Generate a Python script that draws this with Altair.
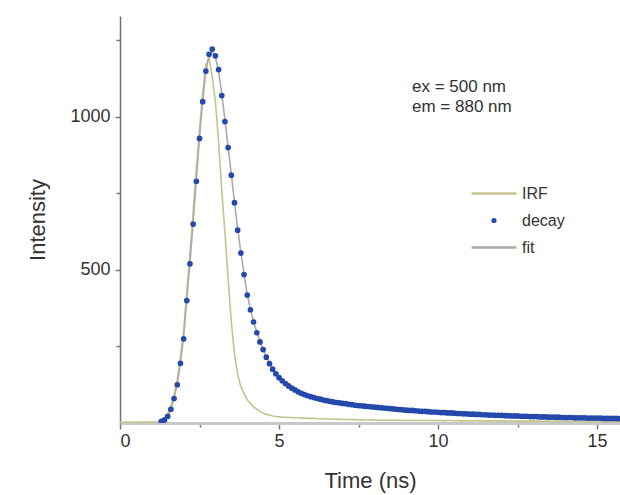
import altair as alt
import pandas as pd

# ---- data (0.1 ns sampling) ----
step = 0.1
irf_start = 0.0
irf = [
    3, 2, 3, 3, 2, 3, 3, 2, 3, 3,
    3, 4, 5, 8, 15, 30, 55, 92, 140, 215,
    300, 430, 555, 690, 830, 960, 1080, 1170, 1195, 1130,
    1050, 920, 760, 620, 470, 330, 225, 160, 118, 95,
    76, 64, 53, 45, 38, 33, 29, 26, 23, 21,
    20, 19, 19, 18, 18, 17, 18, 16, 16, 15,
    15, 16, 14, 14, 13, 14, 13, 12, 13, 12,
    12, 11, 12, 11, 11, 10, 11, 10, 10, 11,
    10, 9, 10, 9, 10, 9, 9, 10, 9, 8,
    9, 8, 9, 8, 9, 8, 8, 9, 8, 8,
    8, 8, 7, 8, 8, 7, 8, 7, 7, 8,
    7, 7, 8, 7, 7, 7, 6, 7, 7, 6,
    7, 6, 7, 6, 6, 7, 6, 6, 6, 7,
    6, 6, 6, 5, 6, 6, 5, 6, 6, 5,
    6, 5, 5, 6, 5, 5, 5, 6, 5, 5,
    5, 5, 5, 4, 5, 5, 5, 4,
]

decay_start = 1.3
decay = [
    5, 10, 22, 45, 80, 125, 195,
    275, 400, 520, 650, 790, 930, 1050, 1150, 1205, 1222,
    1200, 1155, 1070, 985, 900, 810, 720, 630, 555, 485,
    418, 370, 330, 295, 265, 240, 215, 194, 176, 161,
    148, 138, 129, 121, 114, 108, 102, 97, 93, 89,
    86, 83, 80, 78, 75, 73, 71, 69, 67, 66,
    64, 63, 61, 60, 58, 57, 56, 55, 54, 53,
    52, 51, 50, 49, 48, 47, 46, 45, 44, 43,
    42, 41, 41, 40, 39, 38, 38, 37, 36, 36,
    35, 34, 34, 33, 33, 32, 31, 31, 30, 30,
    29, 29, 28, 28, 27, 27, 26, 26, 25, 25,
    25, 24, 24, 23, 23, 23, 22, 22, 22, 21,
    21, 21, 20, 20, 20, 19, 19, 19, 19, 18,
    18, 18, 18, 17, 17, 17, 17, 16, 16, 16,
    16, 16, 15, 15, 15, 15, 15, 14,
]

fit_start = 1.2
fit = [
    3, 6, 11, 23, 46, 82, 127, 198,
    280, 405, 525, 655, 795, 935, 1055, 1150, 1200, 1215,
    1195, 1150, 1075, 990, 900, 812, 722, 635, 557, 487,
    420, 372, 332, 297, 267, 241, 217, 196, 178, 162,
    149, 139, 130, 122, 115, 108, 103, 98, 93, 89,
    86, 83, 80, 77, 75, 73, 71, 69, 67, 65,
    64, 62, 61, 59, 58, 57, 56, 55, 54, 53,
    52, 51, 50, 49, 48, 47, 46, 45, 44, 43,
    42, 41, 41, 40, 39, 38, 38, 37, 36, 36,
    35, 34, 34, 33, 33, 32, 31, 31, 30, 30,
    29, 29, 28, 28, 27, 27, 26, 26, 25, 25,
    25, 24, 24, 23, 23, 23, 22, 22, 22, 21,
    21, 21, 20, 20, 20, 19, 19, 19, 19, 18,
    18, 18, 18, 17, 17, 17, 17, 16, 16, 16,
    16, 16, 15, 15, 15, 15, 15, 14,
]

series_names = ["IRF", "decay", "fit"]
series_colors = ["#c4c48f", "#2548ad", "#ababab"]
annotation = "ex = 500 nm\nem = 880 nm"

x_ticks = [0, 2.5, 5, 7.5, 10, 12.5, 15]
y_ticks = [250, 500, 750, 1000, 1250]


def frame(name, start, values):
    return pd.DataFrame({
        "series": name,
        "t": [round(start + i * step, 2) for i in range(len(values))],
        "v": values,
    })


df = pd.concat([frame("IRF", irf_start, irf),
                frame("decay", decay_start, decay),
                frame("fit", fit_start, fit)], ignore_index=True)

legend = alt.Legend(title=None, orient="none", legendX=350, legendY=164,
                    labelFontSize=16, labelColor="#333", labelFont="Liberation Sans",
                    symbolStrokeWidth=2.5, symbolSize=2025, clipHeight=27,
                    rowPadding=0, labelOffset=4, padding=0)

color_scale = alt.Scale(domain=series_names, range=series_colors)
dot_path = "M -0.06 0 A 0.06 0.06 0 1 0 0.06 0 A 0.06 0.06 0 1 0 -0.06 0 Z"
shape_scale = alt.Scale(domain=series_names, range=["stroke", dot_path, "stroke"])

x_enc = alt.X("t:Q", scale=alt.Scale(domain=[0, 15.72], nice=False),
              axis=alt.Axis(values=x_ticks, title="Time (ns)", grid=False,
                            labelExpr="datum.value % 5 == 0 ? datum.label : ''",
                            tickSize={"condition": {"test": "datum.value % 5 == 0", "value": 6}, "value": 4},
                            domainColor="#c8c8c8", domainWidth=3, tickColor="#777",
                            tickWidth=1.5, labelPadding=3, titlePadding=20,
                            labelFontSize=18, titleFontSize=22,
                            labelColor="#333", titleColor="#333",
                            labelFont="Liberation Sans", titleFont="Liberation Sans",
                            titleFontWeight="normal"))
y_enc = alt.Y("v:Q", scale=alt.Scale(domain=[0, 1330], nice=False),
              axis=alt.Axis(values=y_ticks, title="Intensity", format="d", grid=False,
                            labelExpr="datum.value % 500 == 0 ? datum.label : ''",
                            tickSize={"condition": {"test": "datum.value % 500 == 0", "value": 5}, "value": 4},
                            domainColor="#707070", domainWidth=1.5, tickColor="#777",
                            tickWidth=1.5, labelPadding=5, titlePadding=20,
                            labelFontSize=18, titleFontSize=22,
                            labelColor="#333", titleColor="#333",
                            labelFont="Liberation Sans", titleFont="Liberation Sans",
                            titleFontWeight="normal"))

base = alt.Chart(df)

lines = base.transform_filter(alt.datum.series != "decay").mark_line(
    strokeWidth=1.6, clip=True).encode(
    x=x_enc, y=y_enc,
    color=alt.Color("series:N", scale=color_scale, legend=legend),
)

points = base.transform_filter(alt.datum.series == "decay").mark_point(
    filled=False, strokeWidth=3, size=2025, opacity=1, clip=True).encode(
    x=x_enc, y=y_enc,
    color=alt.Color("series:N", scale=color_scale, legend=legend),
    shape=alt.Shape("series:N", scale=shape_scale, legend=legend),
)

note = alt.Chart(pd.DataFrame({"label": [annotation]})).mark_text(
    align="left", baseline="top", lineBreak="\n", lineHeight=20,
    fontSize=17, font="Liberation Sans", color="#333").encode(
    text="label:N", x=alt.value(292), y=alt.value(63))

chart = alt.layer(lines, points, note).properties(
    width=500, height=407,
    background="white",
    autosize=alt.AutoSizeParams(type="none"),
    padding={"left": 120, "top": 16, "right": 0, "bottom": 72},
).configure_view(stroke=None)

chart.save("out.html", embed_options={"renderer": "svg", "actions": False})
